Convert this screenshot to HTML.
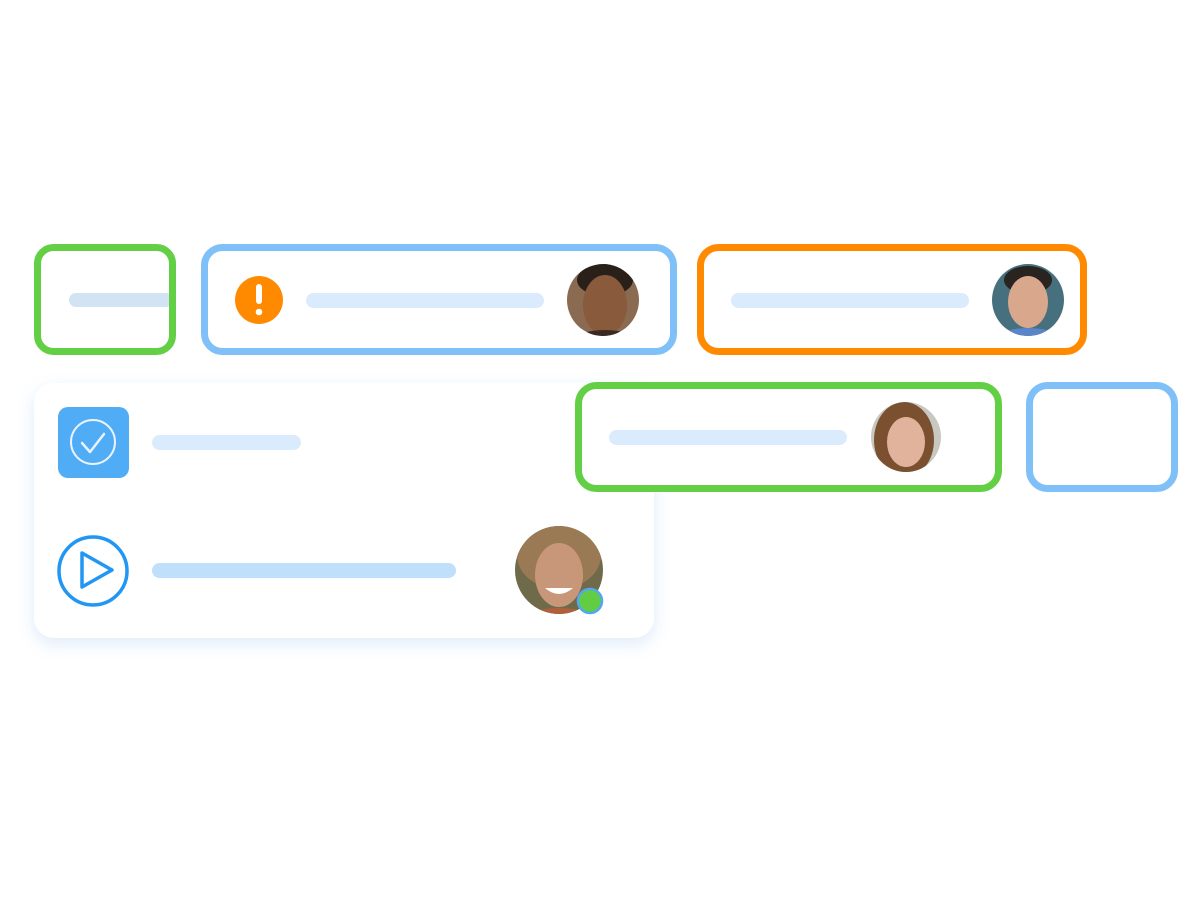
<!DOCTYPE html>
<html><head><meta charset="utf-8"><style>
html,body{margin:0;padding:0;background:#fff;width:1201px;height:900px;overflow:hidden}
</style></head><body>
<svg width="1201" height="900" viewBox="0 0 1201 900" xmlns="http://www.w3.org/2000/svg">
<defs>
<filter id="sh" x="-10%" y="-10%" width="120%" height="130%">
<feDropShadow dx="0" dy="6" stdDeviation="8" flood-color="#4a90e2" flood-opacity="0.18"/>
</filter>
<clipPath id="c1"><circle cx="603" cy="300" r="36"/></clipPath>
<clipPath id="c2"><circle cx="1028" cy="300" r="36"/></clipPath>
<clipPath id="c3"><circle cx="906" cy="437" r="35"/></clipPath>
<clipPath id="c4"><circle cx="559" cy="570" r="44"/></clipPath>
</defs>
<!-- card -->
<rect x="34" y="383" width="620" height="255" rx="20" fill="#fff" filter="url(#sh)"/>
<rect x="58" y="407" width="71" height="71" rx="10" fill="#51acf6"/>
<circle cx="93" cy="442" r="22" fill="none" stroke="#e8f3fd" stroke-width="2"/>
<path d="M82 443 L90 452 L104 434" fill="none" stroke="#e8f3fd" stroke-width="2.5" stroke-linecap="round" stroke-linejoin="round"/>
<rect x="152" y="435" width="149" height="15" rx="7.5" fill="#d9ebfc"/>
<circle cx="93" cy="571" r="34" fill="none" stroke="#2196f3" stroke-width="3.5"/>
<path d="M82 553 L112 570 L82 587 Z" fill="none" stroke="#2196f3" stroke-width="3.5" stroke-linejoin="round"/>
<rect x="152" y="563" width="304" height="15" rx="7.5" fill="#bfdffb"/>
<g clip-path="url(#c4)">
<rect x="510" y="520" width="100" height="100" fill="#6e6a4a"/>
<ellipse cx="559" cy="555" rx="42" ry="34" fill="#9a7a55"/>
<ellipse cx="559" cy="575" rx="24" ry="32" fill="#c89678"/>
<path d="M545 588 Q559 600 573 588" fill="#fff"/>
<ellipse cx="559" cy="622" rx="40" ry="14" fill="#b0603a"/>
</g>
<circle cx="590" cy="601" r="12" fill="#62cc43" stroke="#4fa8f0" stroke-width="2.5"/>
<!-- green box 1 -->
<rect x="69" y="293" width="104" height="14" rx="7" fill="#d2e3f3"/>
<rect x="37.5" y="247.5" width="135" height="104" rx="16" fill="none" stroke="#63cf45" stroke-width="7"/>
<!-- blue box -->
<rect x="204.5" y="247.5" width="469" height="104" rx="18" fill="#fff" stroke="#7ec0f7" stroke-width="7"/>
<circle cx="259" cy="300" r="24" fill="#ff8a00"/>
<rect x="256" y="284" width="6" height="20" rx="3" fill="#fff"/>
<circle cx="259" cy="312" r="3.3" fill="#fff"/>
<rect x="306" y="293" width="238" height="15" rx="7.5" fill="#d9ebfc"/>
<g clip-path="url(#c1)">
<rect x="565" y="262" width="80" height="80" fill="#8a6a50"/>
<ellipse cx="605" cy="280" rx="28" ry="16" fill="#2a201a"/>
<ellipse cx="605" cy="305" rx="22" ry="30" fill="#8a5a3c"/>
<ellipse cx="605" cy="340" rx="30" ry="10" fill="#3a2a22"/>
</g>
<!-- orange box -->
<rect x="700.5" y="247.5" width="383" height="104" rx="18" fill="#fff" stroke="#ff8a00" stroke-width="7"/>
<rect x="731" y="293" width="238" height="15" rx="7.5" fill="#d9ebfc"/>
<g clip-path="url(#c2)">
<rect x="990" y="262" width="80" height="80" fill="#46707e"/>
<ellipse cx="1028" cy="280" rx="24" ry="14" fill="#2a2420"/>
<ellipse cx="1028" cy="302" rx="20" ry="26" fill="#d9a88c"/>
<ellipse cx="1028" cy="338" rx="30" ry="10" fill="#5a86c8"/>
</g>
<!-- green box 2 -->
<rect x="578.5" y="385.5" width="420" height="103" rx="18" fill="#fff" stroke="#63cf45" stroke-width="7"/>
<rect x="609" y="430" width="238" height="15" rx="7.5" fill="#d9ebfc"/>
<g clip-path="url(#c3)">
<rect x="870" y="400" width="75" height="75" fill="#c8c8c0"/>
<ellipse cx="904" cy="440" rx="30" ry="38" fill="#7a5030"/>
<ellipse cx="906" cy="442" rx="19" ry="25" fill="#e2b39c"/>
</g>
<!-- blue small -->
<rect x="1029.5" y="385.5" width="145" height="103" rx="18" fill="#fff" stroke="#7ec0f7" stroke-width="7"/>
</svg>
</body></html>
